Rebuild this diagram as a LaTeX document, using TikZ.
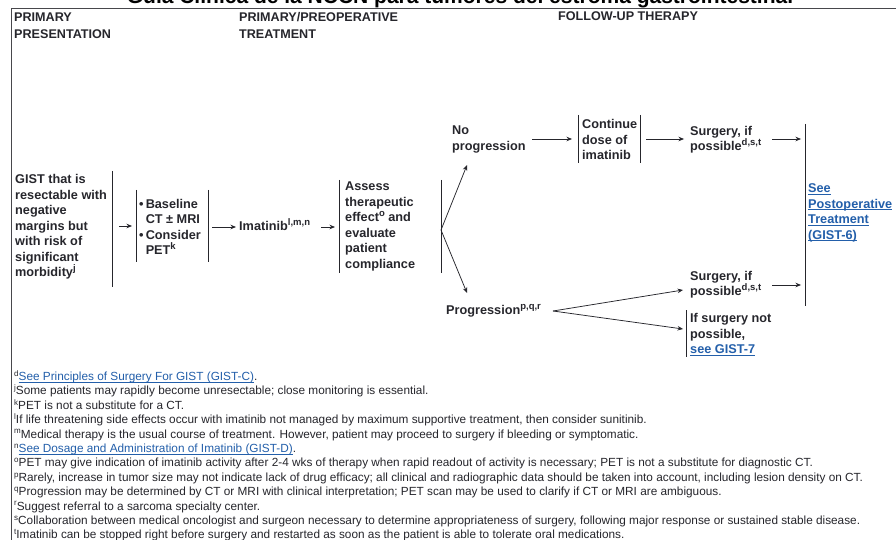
\documentclass[tikz,border=0pt]{standalone}
\usepackage{fontspec}
\setmainfont{Liberation Sans}
\usetikzlibrary{arrows.meta}
\definecolor{ink}{RGB}{38,38,44}
\definecolor{linkblue}{RGB}{35,95,170}
\newcommand\bodyfont{\fontsize{12.7}{15.5}\selectfont\bfseries}
\newcommand\hdrfont{\fontsize{12.6}{17}\selectfont\bfseries}
\newcommand\notefont{\fontsize{11.8}{14.4}\selectfont}
\newcommand\sps[1]{\raisebox{0.4em}{\fontsize{9.5}{9.5}\selectfont #1}}
\newcommand\nsup[1]{\raisebox{0.36em}{\fontsize{8}{8}\selectfont #1}}
\newcommand\lnk[1]{\textcolor{linkblue}{\setbox0\hbox{#1}\rlap{\rule[-1.8pt]{\wd0}{0.7pt}}\box0}}
\begin{document}
\begin{tikzpicture}[x=1pt,y=-1pt,
  txt/.style={inner sep=0pt, anchor=west, align=left, text=ink, font=\bodyfont},
  hdr/.style={inner sep=0pt, anchor=west, align=left, text=ink, font=\hdrfont},
  note/.style={inner sep=0pt, anchor=base west, text=ink, font=\notefont},
  bar/.style={draw=ink, line width=0.9pt},
  arr/.style={draw=ink, line width=0.75pt, -{Stealth[length=5.5pt,width=4.5pt]}},
  frame/.style={draw=ink!85, line width=0.8pt}]
\useasboundingbox (0,0) rectangle (896,540);
\fill[white] (0,0) rectangle (896,540);

% title (cut at top, as in the reference)
\node[anchor=base, inner sep=0pt, text=black, font=\fontsize{21}{21}\selectfont\bfseries] (title) at (460,4) {Guía Clínica de la NCCN para tumores del estroma gastrointestinal};

% frame
\coordinate (fTL) at (11,8);
\coordinate (fTR) at (896,8);
\coordinate (fBL) at (11,540);
\draw[frame] (fTR) -- (fTL) -- (fBL);

% headers
\node[hdr] (h1) at (14,25.5) {PRIMARY\\PRESENTATION};
\node[hdr] (h2) at (239,25.5) {PRIMARY/PREOPERATIVE\\TREATMENT};
\node[hdr, anchor=base west] (h3) at (558,21) {FOLLOW-UP THERAPY};

% text nodes
\node[txt] (gist) at (15,227) {GIST that is\\resectable with\\negative\\margins but\\with risk of\\significant\\morbidity\sps{j}};
\node[txt] (base) at (139,227) {\textbullet\,Baseline\\\hphantom{\textbullet\,}CT ± MRI\\\textbullet\,Consider\\\hphantom{\textbullet\,}PET\sps{k}};
\node[txt, anchor=base west] (imat) at (239,230.5) {Imatinib\sps{l,m,n}};
\node[txt] (assess) at (345,226.5) {Assess\\therapeutic\\effect\sps{o} and\\evaluate\\patient\\compliance};
\node[txt] (nop) at (452,139.5) {No\\progression};
\node[txt] (cont) at (582,139.5) {Continue\\dose of\\imatinib};
\node[txt] (surg1) at (690,139.5) {Surgery, if\\possible\sps{d,s,t}};
\node[txt] (post) at (808,213) {\lnk{See}\\\lnk{Postoperative}\\\lnk{Treatment}\\\lnk{(GIST-6)}};
\node[txt, anchor=base west] (prog) at (446,314.5) {Progression\sps{p,q,r}};
\node[txt] (surg2) at (690,284.5) {Surgery, if\\possible\sps{d,s,t}};
\node[txt] (ifnot) at (690,334.5) {If surgery not\\possible,\\\lnk{see GIST-7}};

% bars
\draw[bar] (112,171) -- (112,287);
\draw[bar] (136,190) -- (136,262);
\draw[bar] (208,190) -- (208,262);
\draw[bar] (339,180) -- (339,273);
\draw[bar] (441,180) -- (441,273);
\draw[bar] (578,115) -- (578,163);
\draw[bar] (640,115) -- (640,163);
\draw[bar] (805,124) -- (805,306);
\draw[bar] (686,310) -- (686,357);

% connector end points
\coordinate (g1) at (119,226);  \coordinate (g2) at (132,226);
\coordinate (b1) at (212,227);  \coordinate (b2) at (236,227);
\coordinate (i1) at (321,227);  \coordinate (i2) at (335,227);
\coordinate (fork) at (441,230);
\coordinate (nopin) at (467,165);
\coordinate (progin) at (467,293);
\coordinate (n1) at (532,139); \coordinate (n2) at (572,139);
\coordinate (c1) at (646,139); \coordinate (c2) at (684,139);
\coordinate (s1) at (772,139); \coordinate (s2) at (801,139);
\coordinate (pv) at (553,311);
\coordinate (ps) at (683,290);
\coordinate (pn) at (683,329);
\coordinate (t1) at (772,285); \coordinate (t2) at (801,285);

\draw[arr] (g1) -- (g2);
\draw[arr] (b1) -- (b2);
\draw[arr] (i1) -- (i2);
\draw[arr] (fork) -- (nopin);
\draw[arr] (fork) -- (progin);
\draw[arr] (n1) -- (n2);
\draw[arr] (c1) -- (c2);
\draw[arr] (s1) -- (s2);
\draw[arr] (pv) -- (ps);
\draw[arr] (pv) -- (pn);
\draw[arr] (t1) -- (t2);

% footnotes
\node[note] (fd) at (14,380.5) {\nsup{d}\lnk{See Principles of Surgery For GIST (GIST-C)}.};
\node[note] (fj) at (14,394.9) {\nsup{j}Some patients may rapidly become unresectable; close monitoring is essential.};
\node[note] (fk) at (14,409.3) {\nsup{k}PET is not a substitute for a CT.};
\node[note] (fl) at (14,423.7) {\nsup{l}If life threatening side effects occur with imatinib not managed by maximum supportive treatment, then consider sunitinib.};
\node[note] (fm) at (14,438.1) {\nsup{m}Medical therapy is the usual course of treatment. However, patient may proceed to surgery if bleeding or symptomatic.};
\node[note] (fn) at (14,452.5) {\nsup{n}\lnk{See Dosage and Administration of Imatinib (GIST-D)}.};
\node[note] (fo) at (14,466.9) {\nsup{o}PET may give indication of imatinib activity after 2-4 wks of therapy when rapid readout of activity is necessary; PET is not a substitute for diagnostic CT.};
\node[note] (fp) at (14,481.3) {\nsup{p}Rarely, increase in tumor size may not indicate lack of drug efficacy; all clinical and radiographic data should be taken into account, including lesion density on CT.};
\node[note] (fq) at (14,495.7) {\nsup{q}Progression may be determined by CT or MRI with clinical interpretation; PET scan may be used to clarify if CT or MRI are ambiguous.};
\node[note] (fr) at (14,510.1) {\nsup{r}Suggest referral to a sarcoma specialty center.};
\node[note] (fs) at (14,524.5) {\nsup{s}Collaboration between medical oncologist and surgeon necessary to determine appropriateness of surgery, following major response or sustained stable disease.};
\node[note] (ft) at (14,538.9) {\nsup{t}Imatinib can be stopped right before surgery and restarted as soon as the patient is able to tolerate oral medications.};
\end{tikzpicture}
\end{document}
